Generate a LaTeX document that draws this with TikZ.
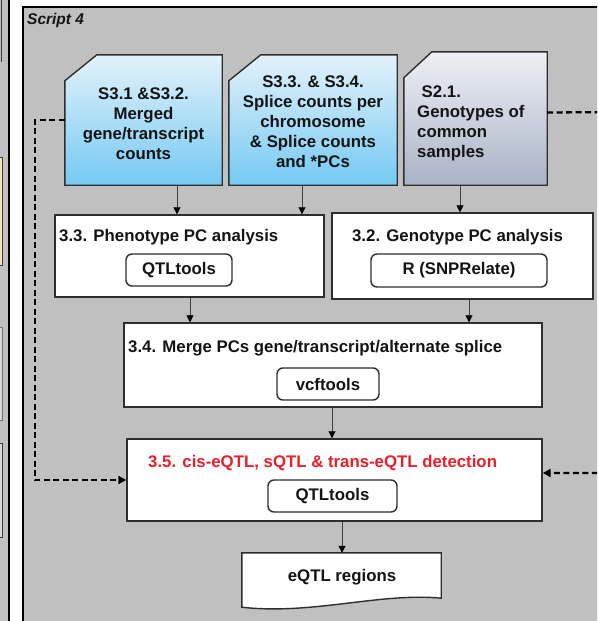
\documentclass[tikz,border=0pt]{standalone}
\usepackage{fontspec}
\setmainfont{Liberation Sans}
\usetikzlibrary{arrows.meta,calc}

\definecolor{panelgrey}{HTML}{C0C0C0}
\definecolor{boxline}{HTML}{2E2E2E}
\definecolor{textdark}{HTML}{141414}
\definecolor{alertred}{HTML}{E8202A}
\definecolor{bluetop}{HTML}{E4F2FB}
\definecolor{bluebot}{HTML}{74C9F2}
\definecolor{greytop}{HTML}{EEF0F5}
\definecolor{greybot}{HTML}{A9B2C6}
\definecolor{fragyellow}{HTML}{EFE6BF}
\definecolor{fraglight}{HTML}{D8D8D8}
\definecolor{fragdark}{HTML}{3A3A3A}

\tikzset{
  txt/.style={font=\fontsize{16.8}{20}\selectfont\bfseries, text=textdark,
              inner sep=0pt, align=center},
  anchorbox/.style={rectangle, draw=none, inner sep=0pt},
  procbox/.style={rectangle, draw=boxline, fill=white, line width=1.4pt, inner sep=0pt},
  toolbox/.style={rectangle, rounded corners=6pt, draw=boxline, fill=white,
                  line width=1.4pt, inner sep=0pt,
                  font=\fontsize{16.8}{20}\selectfont\bfseries, text=textdark},
  bluedoc/.style={draw=boxline, line width=1.4pt, top color=bluetop, bottom color=bluebot},
  greydoc/.style={draw=boxline, line width=1.4pt, top color=greytop, bottom color=greybot},
  arr/.style={draw=black!75, line width=0.8pt,
              -{Triangle[length=7pt,width=7pt,color=black]}},
  dasharr/.style={draw=black, line width=2.3pt, dash pattern=on 6pt off 3.5pt,
                  -{Triangle[length=8pt,width=8pt,color=black]}},
}

\begin{document}
\begin{tikzpicture}[x=1pt,y=-1pt]
\useasboundingbox (0,0) rectangle (597,621);
\begin{scope}
\clip (0,0) rectangle (597,621);

% page background and the neighbouring strip on the left
\fill[white] (0,0) rectangle (597,621);
\fill[panelgrey] (0,0) rectangle (8,621);
\draw[fragdark, line width=1pt] (1.5,-2) -- (1.5,62);
\filldraw[fill=fragyellow, draw=fragdark, line width=1pt] (-5,157) rectangle (2,265);
\filldraw[fill=fraglight, draw=black!55, line width=1pt] (-5,327) rectangle (2,420);
\filldraw[fill=fraglight, draw=fragdark, line width=1pt] (-5,443) rectangle (2,537);
\fill[black] (7.5,0) rectangle (9.8,621);

% Script 4 panel
\filldraw[fill=panelgrey, draw=black, line width=2pt] (23,7) rectangle (640,660);
\node[font=\fontsize{15.5}{15.5}\selectfont\bfseries\itshape, text=textdark,
      anchor=base west, inner sep=0pt] (title) at (27,24) {Script 4};

% input documents
\node[anchorbox, minimum width=157pt, minimum height=130pt] (b1) at (143.5,120) {};
\path[bluedoc] (b1.south west) -- ([yshift=-26pt]b1.north west)
  -- ([xshift=32pt]b1.north west) -- (b1.north east) -- (b1.south east) -- cycle;
\node[txt] (b1t) at (143.5,123.5) {S3.1 \&S3.2.\\Merged\\gene/transcript\\counts};

\node[anchorbox, minimum width=168pt, minimum height=130pt] (b2) at (313,120) {};
\path[bluedoc] (b2.south west) -- ([yshift=-26pt]b2.north west)
  -- ([xshift=32pt]b2.north west) -- (b2.north east) -- (b2.south east) -- cycle;
\node[txt] (b2t) at (313,122) {S3.3. \& S3.4.\\Splice counts per\\chromosome\\\& Splice counts\\and *PCs};

\node[anchorbox, minimum width=143pt, minimum height=133pt] (b3) at (475.5,118.5) {};
\path[greydoc] (b3.south west) -- ([yshift=-26pt]b3.north west)
  -- ([xshift=28pt]b3.north west) -- (b3.north east) -- (b3.south east) -- cycle;
\node[txt, align=left, anchor=west] (b3t) at (417,123)
  {\hspace*{4.5pt}S2.1.\\Genotypes of\\common\\samples};

% PC analysis steps
\node[procbox, minimum width=269pt, minimum height=82pt] (p33) at (189.5,256) {};
\node[txt, anchor=west] (p33t) at (59,237) {3.3. Phenotype PC analysis};
\node[toolbox, minimum width=106pt, minimum height=32pt] (p33q) at (179,270) {QTLtools};

\node[procbox, minimum width=261pt, minimum height=86pt] (p32) at (462.5,256) {};
\node[txt] (p32t) at (457.5,237) {3.2. Genotype PC analysis};
\node[toolbox, minimum width=176pt, minimum height=33pt] (p32r) at (459,270.5) {R (SNPRelate)};

% merge step
\node[procbox, minimum width=418pt, minimum height=84pt] (p34) at (333,365) {};
\node[txt, anchor=west] (p34t) at (128,348) {3.4. Merge PCs gene/transcript/alternate splice};
\node[toolbox, minimum width=102pt, minimum height=32pt] (p34v) at (328,384) {vcftools};

% eQTL detection
\node[procbox, minimum width=415pt, minimum height=82pt] (p35) at (334.5,480) {};
\node[txt, text=alertred, anchor=west] (p35t) at (148,463) {3.5. cis-eQTL, sQTL \& trans-eQTL detection};
\node[toolbox, minimum width=129pt, minimum height=32pt] (p35q) at (332.5,496) {QTLtools};

% output document
\node[anchorbox, minimum width=199pt, minimum height=48pt] (out) at (341.5,577) {};
\path[draw=boxline, line width=1.4pt, fill=white] (out.south west) -- (out.north west)
  -- (out.north east) -- ([yshift=3pt]out.south east)
  .. controls ([xshift=-60pt,yshift=9pt]out.south east) and ([xshift=70pt,yshift=-14pt]out.south west)
  .. ([yshift=-6pt]out.south west) -- cycle;
\node[txt] (outt) at (342,577) {eQTL regions};

% solid connectors
\draw[arr] ([xshift=33.5pt]b1.south) -- ([xshift=33.5pt]b1.south |- p33.north);
\draw[arr] ([xshift=-11pt]b2.south) -- ([xshift=-11pt]b2.south |- p33.north);
\draw[arr] ([xshift=-15.5pt]b3.south) -- ([xshift=-15.5pt]b3.south |- p32.north);
\draw[arr] ([xshift=0.5pt]p33.south) -- ([xshift=0.5pt]p33.south |- p34.north);
\draw[arr] ([xshift=6.5pt]p32.south) -- ([xshift=6.5pt]p32.south |- p34.north);
\draw[arr] ([xshift=-1pt]p34.south) -- ([xshift=-1pt]p34.south |- p35.north);
\draw[arr] ([xshift=7.5pt]p35.south) -- ([xshift=7.5pt]p35.south |- out.north);

% dashed side connectors
\draw[dasharr] (b1.west) -- ++(-30,0) |- (p35.west);
\coordinate (rt) at (620,112);
\draw[dasharr] ([yshift=6pt]b3.east) -- (rt) |- ([yshift=7pt]p35.east);
\end{scope}
\end{tikzpicture}
\end{document}
